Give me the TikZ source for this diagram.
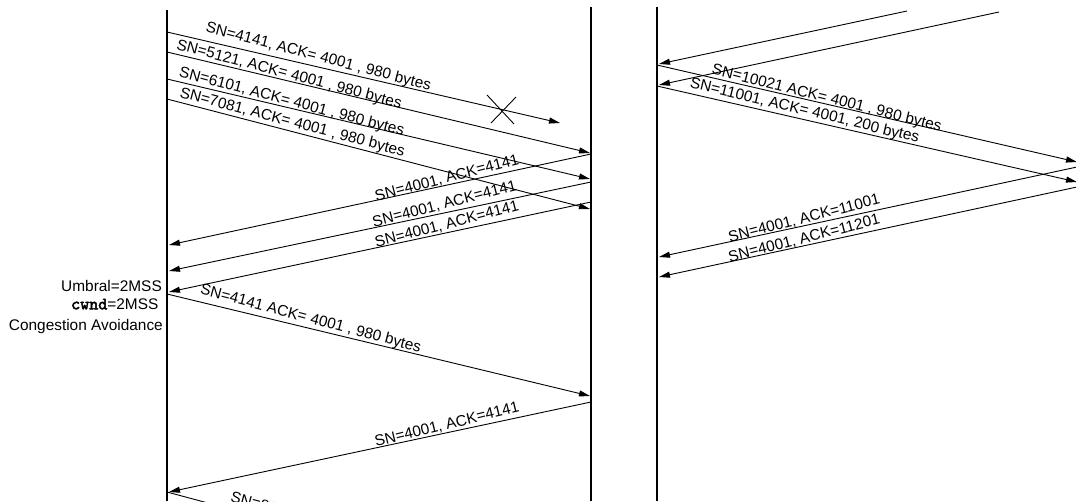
\documentclass[tikz,border=0pt]{standalone}
\usepackage{fontspec}
\setmainfont{Liberation Sans}
\newfontfamily\monob{lmmono10-regular.otf}[AutoFakeBold=2.5,Scale=1.12]
\usetikzlibrary{arrows.meta}
\begin{document}
\begin{tikzpicture}[x=1pt,y=-1pt,
  life/.style={line width=2.6pt},
  msg/.style={line width=0.9pt,-{Triangle[length=11pt,width=6pt]}},
  plain/.style={line width=0.9pt},
  lbl/.style={inner sep=0pt,text depth=0pt,font=\fontsize{15.4}{18}\selectfont},
  note/.style={inner sep=0pt,anchor=east,font=\fontsize{15.4}{18}\selectfont}]
\useasboundingbox (0,0) rectangle (1076,501);
% lifelines
\coordinate (Lt) at (167,10);  \coordinate (Lb) at (167,501);
\coordinate (Mt) at (591,7);   \coordinate (Mb) at (591,501);
\coordinate (Rt) at (657,7);   \coordinate (Rb) at (657,501);
\draw[life] (Lt) -- (Lb);
\draw[life] (Mt) -- (Mb);
\draw[life] (Rt) -- (Rb);
% left panel messages
\coordinate (a1s) at (167,32);  \coordinate (a1e) at (560,123);
\coordinate (a2s) at (167,52);  \coordinate (a2e) at (590,153);
\coordinate (a3s) at (167,79);  \coordinate (a3e) at (590,179);
\coordinate (a4s) at (167,99);  \coordinate (a4e) at (590,209);
\draw[msg] (a1s) -- (a1e);
\draw[msg] (a2s) -- (a2e);
\draw[msg] (a3s) -- (a3e);
\draw[msg] (a4s) -- (a4e);
\coordinate (lost) at (502,110);
\draw[plain] ([shift={(-15,-15)}]lost) -- ([shift={(12,14)}]lost);
\draw[plain] ([shift={(14,-13)}]lost) -- ([shift={(-11,13)}]lost);
\coordinate (b1s) at (591,154); \coordinate (b1e) at (169,245);
\coordinate (b2s) at (591,182); \coordinate (b2e) at (169,271);
\coordinate (b3s) at (591,202); \coordinate (b3e) at (169,292);
\draw[msg] (b1s) -- (b1e);
\draw[msg] (b2s) -- (b2e);
\draw[msg] (b3s) -- (b3e);
\coordinate (cs) at (167,294);  \coordinate (ce) at (590,396);
\draw[msg] (cs) -- (ce);
\coordinate (ds) at (591,402);  \coordinate (de) at (169,492);
\draw[msg] (ds) -- (de);
\coordinate (es) at (167,492);  \coordinate (ee) at (591,606);
\draw[msg] (es) -- (ee);
% left labels
\node[lbl,rotate=-14.6] (t1) at (318.7,55.7) {SN=4141, ACK= 4001 , 980 bytes};
\node[lbl,rotate=-14.8] (t2) at (289.5,73.3) {SN=5121, ACK= 4001 , 980 bytes};
\node[lbl,rotate=-14.8] (t3) at (292,100.7) {SN=6101, ACK= 4001 , 980 bytes};
\node[lbl,rotate=-14.8] (t4) at (292.7,121.3) {SN=7081, ACK= 4001 , 980 bytes};
\node[lbl,rotate=14.5] (r1) at (446.7,177.3) {SN=4001, ACK=4141};
\node[lbl,rotate=14.5] (r2) at (444.3,203.3) {SN=4001, ACK=4141};
\node[lbl,rotate=14.5] (r3) at (446.7,223.7) {SN=4001, ACK=4141};
\node[lbl,rotate=-14.9] (t5) at (311,317.7) {SN=4141 ACK= 4001 , 980 bytes};
\node[lbl,rotate=13.7] (r4) at (446.7,424) {SN=4001, ACK=4141};
\node[lbl,rotate=-15,anchor=west] (t6) at (231,496) {SN=8121 ACK= 4001 , 980 bytes};
\node[note] (n1) at (162,285.5) {Umbral=2MSS};
\node[note] (n2) at (158.5,304) {{\monob\bfseries cwnd}=2MSS};
\node[note] (n3) at (163,326.5) {Congestion Avoidance};
% right panel
\coordinate (f1s) at (907,11);  \coordinate (f1e) at (659,64);
\coordinate (f2s) at (999,12);  \coordinate (f2e) at (659,85);
\draw[msg] (f1s) -- (f1e);
\draw[msg] (f2s) -- (f2e);
\coordinate (g1s) at (657,65);  \coordinate (g1e) at (1077,162);
\coordinate (g2s) at (657,86);  \coordinate (g2e) at (1077,182);
\draw[msg] (g1s) -- (g1e);
\draw[msg] (g2s) -- (g2e);
\coordinate (h1s) at (1077,167); \coordinate (h1e) at (659,257);
\coordinate (h2s) at (1077,187); \coordinate (h2e) at (659,277);
\draw[msg] (h1s) -- (h1e);
\draw[msg] (h2s) -- (h2e);
\node[lbl,rotate=-14.1] (u1) at (827,97) {SN=10021 ACK= 4001 , 980 bytes};
\node[lbl,rotate=-13.7] (u2) at (805,109.5) {SN=11001, ACK= 4001, 200 bytes};
\node[lbl,rotate=14.3] (v1) at (804,217.7) {SN=4001, ACK=11001};
\node[lbl,rotate=14.3] (v2) at (804,237.7) {SN=4001, ACK=11201};
\end{tikzpicture}
\end{document}
